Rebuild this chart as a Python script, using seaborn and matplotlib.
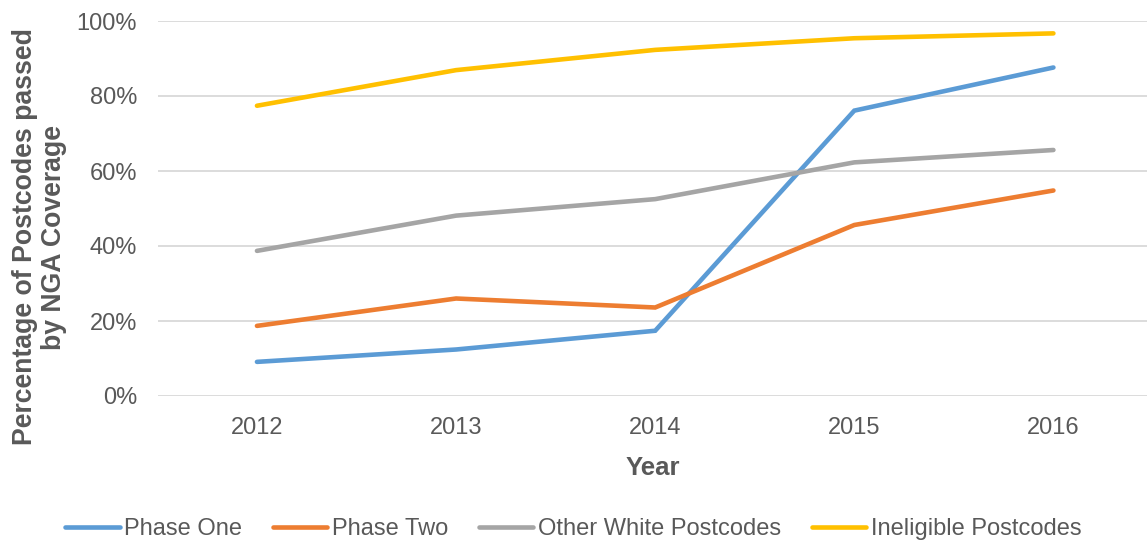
import matplotlib
matplotlib.use("Agg")
import matplotlib.pyplot as plt
import seaborn as sns
import pandas as pd
from matplotlib.lines import Line2D

years = [2012, 2013, 2014, 2015, 2016]
phase_one = [9.1, 12.4, 17.4, 76.1, 87.6]
phase_two = [18.7, 26.0, 23.6, 45.6, 54.8]
other_white = [38.7, 48.1, 52.5, 62.3, 65.6]
ineligible = [77.4, 86.9, 92.3, 95.4, 96.7]
series_names = ["Phase One", "Phase Two", "Other White Postcodes", "Ineligible Postcodes"]
colors = ["#5B9BD5", "#ED7D31", "#A5A5A5", "#FFC000"]
y_ticks = [0, 20, 40, 60, 80, 100]
y_tick_labels = ["0%", "20%", "40%", "60%", "80%", "100%"]

rows = []
for name, vals in zip(series_names, [phase_one, phase_two, other_white, ineligible]):
    for yr, v in zip(years, vals):
        rows.append({"Year": yr, "Value": v, "Series": name})
df = pd.DataFrame(rows)

sns.set_theme(style="white")
plt.rcParams["font.family"] = ["Liberation Sans", "DejaVu Sans"]

fig = plt.figure(figsize=(11.47, 5.45), dpi=100)
ax = fig.add_axes([158/1147, 1-396/545, (1147-158)/1147, (396-21)/545])

sns.lineplot(data=df, x="Year", y="Value", hue="Series", hue_order=series_names,
             palette=colors, linewidth=3.3, ax=ax, legend=False,
             solid_capstyle="round", solid_joinstyle="miter")

ax.set_xlim(years[0] - 0.497, years[0] + 4.47)
ax.set_ylim(0, 100)
ax.set_yticks(y_ticks)
ax.set_yticklabels(y_tick_labels)
ax.set_xticks(years)
ax.set_xticklabels([str(y) for y in years])
ax.tick_params(axis="both", length=0, labelsize=17, labelcolor="#595959")
ax.tick_params(axis="y", pad=15)
ax.tick_params(axis="x", pad=15)
ax.grid(axis="y", color="#D9D9D9", linewidth=1.3)
ax.set_axisbelow(True)
for s in ax.spines.values():
    s.set_visible(False)

ax.set_xlabel("Year", fontsize=18.5, fontweight="bold", color="#595959", labelpad=12)
ax.set_ylabel("Percentage of Postcodes passed\nby NGA Coverage", fontsize=19.2,
              fontweight="bold", color="#595959", multialignment="center", linespacing=1.15)
ax.yaxis.set_label_coords((67-158)/989, (396-237)/375)

handles = [Line2D([0], [0], color=c, linewidth=3.3, solid_capstyle="round") for c in colors]
fig.legend(handles, series_names, loc="center", bbox_to_anchor=(0.5, 1-529/545),
           ncol=4, frameon=False, fontsize=17, handlelength=2.3, handletextpad=0.2,
           columnspacing=1.3, labelcolor="#595959")

fig.savefig("out.png", dpi=100)
